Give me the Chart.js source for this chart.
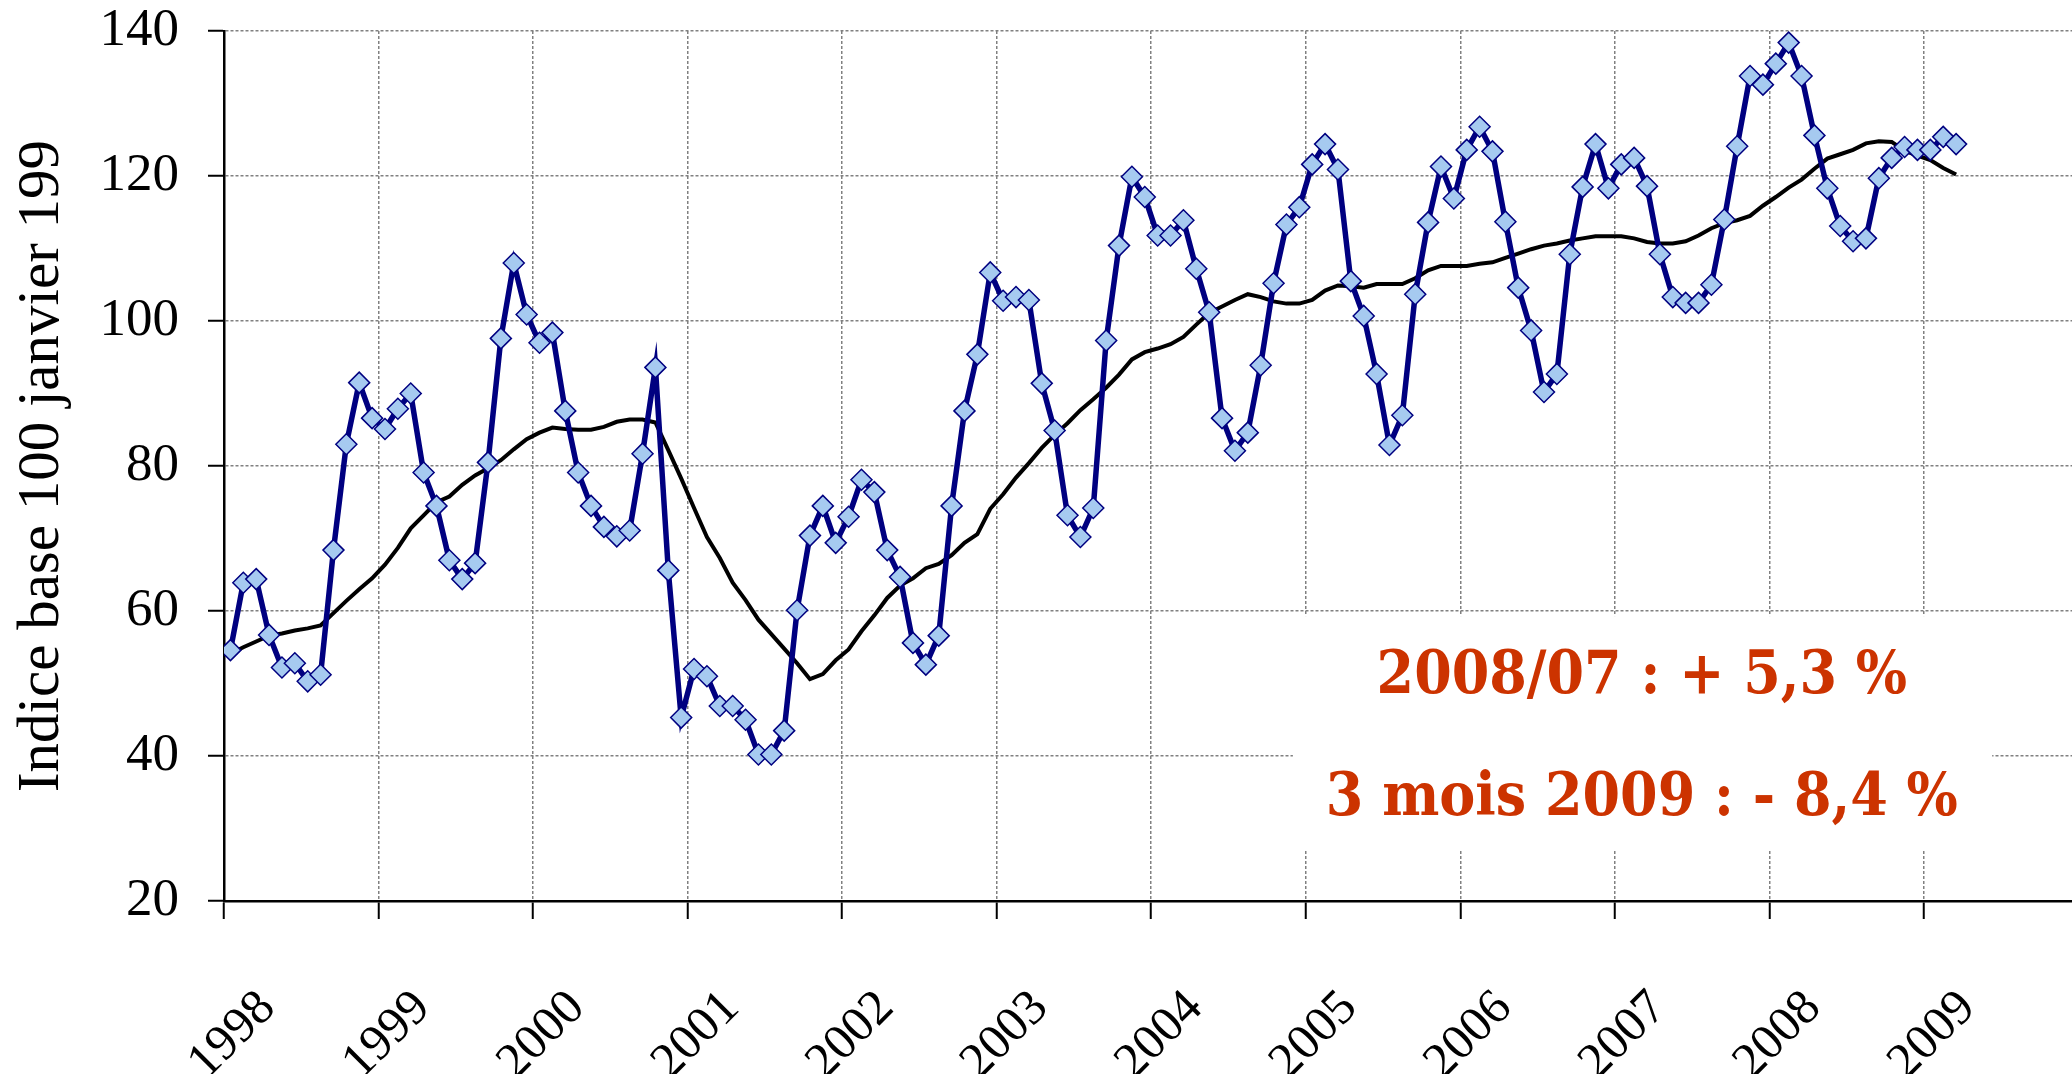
<!DOCTYPE html>
<html>
<head>
<meta charset="utf-8">
<title>Indice base 100 janvier 1998</title>
<script src="https://cdn.jsdelivr.net/npm/chart.js@4.4.0/dist/chart.umd.min.js"></script>
<style>
    html, body { margin: 0; padding: 0; background: #fff; overflow: hidden; }
    #wrap { width: 2072px; height: 1074px; }
</style>
</head>
<body>
<div id="wrap"><canvas id="chart" width="2072" height="1074"></canvas></div>
<script>
'use strict';

// year labels on the x axis, one every 12 months (Jan 1998 = month 0)
var years = ['1998', '1999', '2000', '2001', '2002', '2003', '2004', '2005', '2006', '2007', '2008', '2009'];

// monthly index, Jan 1998 -> Mar 2009
var indexValues = [
    54.6, 63.9, 64.4, 56.7, 52.2, 52.8, 50.3, 51.2, 68.4, 83.0, 91.5, 86.6,
    85.1, 87.9, 90.0, 79.1, 74.5, 67.0, 64.4, 66.6, 80.5, 97.6, 108.0, 100.9,
    97.0, 98.4, 87.6, 79.1, 74.5, 71.6, 70.3, 71.1, 81.7, 93.6, 65.6, 45.3,
    52.0, 51.0, 46.9, 46.9, 45.0, 40.2, 40.2, 43.5, 60.1, 70.4, 74.5, 69.4,
    73.0, 78.1, 76.4, 68.4, 64.7, 55.6, 52.6, 56.6, 74.5, 87.6, 95.4, 106.7,
    102.8, 103.3, 102.9, 91.4, 84.9, 73.2, 70.2, 74.2, 97.3, 110.4, 119.9, 117.1,
    111.8, 111.8, 113.9, 107.2, 101.2, 86.6, 82.1, 84.6, 93.9, 105.2, 113.3, 115.7,
    121.6, 124.4, 120.9, 105.5, 100.7, 92.7, 82.9, 87.0, 103.7, 113.6, 121.3, 116.9,
    123.6, 126.8, 123.4, 113.7, 104.6, 98.7, 90.2, 92.7, 109.2, 118.5, 124.4, 118.3,
    121.6, 122.5, 118.6, 109.2, 103.3, 102.5, 102.5, 105.0, 114.0, 124.1, 133.8, 132.6,
    135.5, 138.4, 133.8, 125.6, 118.3, 113.1, 111.0, 111.4, 119.7, 122.5, 124.0, 123.6,
    123.6, 125.4, 124.4
];

// moving average (black curve)
var averageValues = [
    54.1, 55.0, 55.8, 56.6, 56.9, 57.3, 57.6, 58.0, 59.7, 61.4, 63.0, 64.5,
    66.4, 68.7, 71.4, 73.2, 75.0, 75.8, 77.4, 78.7, 79.7, 80.8, 82.3, 83.7,
    84.6, 85.3, 85.1, 85.0, 85.0, 85.4, 86.1, 86.4, 86.4, 86.0, 82.2, 78.3,
    74.2, 70.2, 67.3, 63.9, 61.5, 58.8, 56.8, 54.8, 52.8, 50.6, 51.3, 53.2,
    54.7, 57.2, 59.4, 61.8, 63.5, 64.5, 65.9, 66.5, 67.7, 69.4, 70.6, 74.1,
    76.1, 78.4, 80.4, 82.5, 84.3, 85.9, 87.7, 89.2, 90.8, 92.6, 94.7, 95.7,
    96.2, 96.8, 97.8, 99.5, 101.1, 102.0, 102.9, 103.7, 103.3, 102.7, 102.4, 102.4,
    102.9, 104.2, 104.9, 104.8, 104.6, 105.1, 105.1, 105.1, 105.9, 107.0, 107.6, 107.6,
    107.6, 107.9, 108.1, 108.7, 109.3, 109.9, 110.4, 110.7, 111.1, 111.4, 111.7, 111.7,
    111.7, 111.4, 110.9, 110.7, 110.7, 111.0, 111.8, 112.8, 113.5, 113.9, 114.5, 115.9,
    117.1, 118.4, 119.5, 121.0, 122.4, 123.0, 123.6, 124.5, 124.8, 124.7, 123.5, 122.8,
    122.2, 121.1, 120.2
];

var notes = ['2008/07 : + 5,3 %', '3 mois 2009 : - 8,4 %'];

function toPoints(values) {
    var points = [];
    for (var i = 0; i < values.length; i++) {
        // points sit in the middle of their month
        points[i] = { x: i + 0.5, y: values[i] };
    }
    return points;
}

function yearTicks() {
    var ticks = [];
    for (var k = 0; k < years.length; k++) {
        ticks.push({ value: k * 12 });
    }
    return ticks;
}

var serif = "'Liberation Serif', 'Times New Roman', serif";
var heavySerif = "'DejaVu Serif Condensed', 'DejaVu Serif', serif";

// white box with the two red comments, placed in data units
var notesPlugin = {
    id: 'notes',
    beforeDatasetsDraw: function (chart) {
        var ctx = chart.ctx;
        var xs = chart.scales.x;
        var ys = chart.scales.y;

        var left = xs.getPixelForValue(83);
        var right = xs.getPixelForValue(137.3);
        var top = ys.getPixelForValue(59.3);
        var bottom = ys.getPixelForValue(27);

        ctx.save();
        ctx.fillStyle = '#ffffff';
        ctx.fillRect(left, top, right - left, bottom - top);

        ctx.fillStyle = '#cc3300';
        ctx.textAlign = 'center';
        ctx.textBaseline = 'middle';
        var cx = xs.getPixelForValue(110.1);
        // shrink the font until the long line fits the width seen in the picture
        var size = 64;
        ctx.font = 'bold ' + size + 'px ' + heavySerif;
        while (size > 40 && ctx.measureText(notes[1]).width > 636) {
            size -= 1;
            ctx.font = 'bold ' + size + 'px ' + heavySerif;
        }
        ctx.fillText(notes[0], cx, ys.getPixelForValue(50.9));
        ctx.fillText(notes[1], cx, ys.getPixelForValue(34.0));
        ctx.restore();
    }
};

var ctx = document.getElementById('chart').getContext('2d');

var chart = new Chart(ctx, {
    type: 'line',
    data: {
        datasets: [{
            label: 'Indice',
            data: toPoints(indexValues),
            borderColor: '#000080',
            borderWidth: 5.5,
            pointStyle: 'rectRot',
            pointRadius: 10.5,
            pointBackgroundColor: '#a6caf0',
            pointBorderColor: '#000080',
            pointBorderWidth: 1.5,
            tension: 0
        }, {
            label: 'Moyenne',
            data: toPoints(averageValues),
            borderColor: '#000000',
            borderWidth: 4,
            pointRadius: 0,
            tension: 0
        }]
    },
    options: {
        responsive: false,
        devicePixelRatio: 1,
        animation: false,
        layout: {
            autoPadding: false,
            padding: { top: 31, right: 0, bottom: 0, left: 0 }
        },
        plugins: {
            legend: { display: false },
            tooltip: { enabled: false }
        },
        scales: {
            x: {
                type: 'linear',
                min: 0,
                max: 143.5,
                afterBuildTicks: function (scale) {
                    scale.ticks = yearTicks();
                },
                afterFit: function (scale) {
                    scale.height = 173;
                    scale.paddingLeft = 0;
                    scale.paddingRight = 0;
                },
                ticks: {
                    autoSkip: false,
                    minRotation: 45,
                    maxRotation: 45,
                    padding: 60,
                    labelOffset: 44,
                    color: '#000',
                    font: { family: serif, size: 50 },
                    callback: function (value) {
                        return years[Math.round(value / 12)];
                    }
                },
                grid: {
                    color: '#808080',
                    lineWidth: 1.5,
                    tickColor: '#000',
                    tickWidth: 2,
                    tickLength: 18
                },
                border: { color: '#000', width: 2.5, dash: [3, 2] }
            },
            y: {
                min: 20,
                max: 140,
                afterFit: function (scale) {
                    scale.width = 224;
                    scale.paddingTop = 0;
                    scale.paddingBottom = 0;
                },
                ticks: {
                    stepSize: 20,
                    padding: 29,
                    color: '#000',
                    font: { family: serif, size: 53 }
                },
                grid: {
                    color: '#808080',
                    lineWidth: 1.5,
                    tickColor: '#000',
                    tickWidth: 2,
                    tickLength: 16
                },
                border: { color: '#000', width: 2.5, dash: [3, 2] },
                title: {
                    display: true,
                    text: 'Indice base 100 janvier 199',
                    color: '#000',
                    padding: { top: 13, bottom: 0 },
                    font: { family: serif, size: 59, lineHeight: 1 }
                }
            }
        }
    },
    plugins: [notesPlugin]
});
</script>
</body>
</html>
